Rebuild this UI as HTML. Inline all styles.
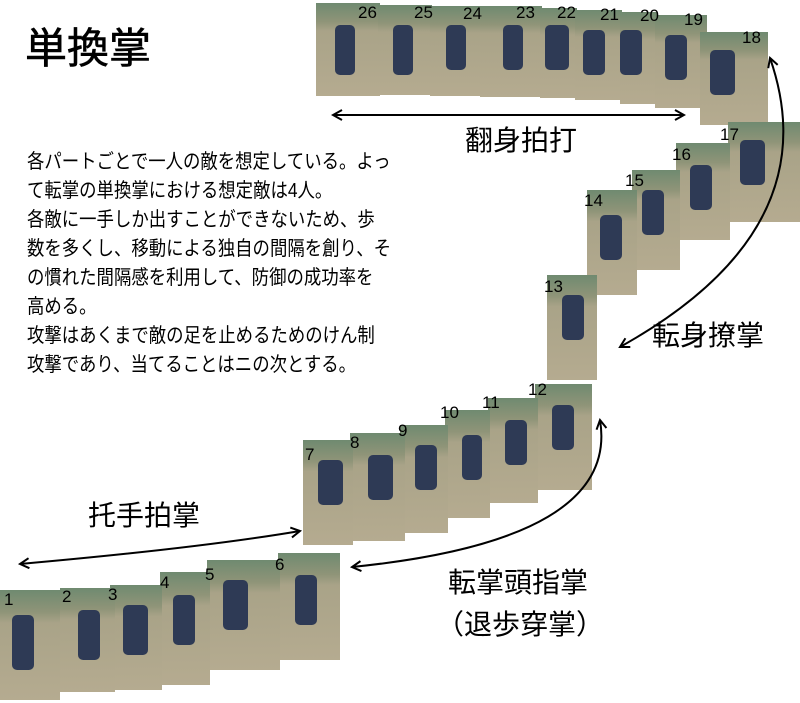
<!DOCTYPE html>
<html><head><meta charset="utf-8"><style>
html,body{margin:0;padding:0;background:#fff;width:800px;height:703px;overflow:hidden}
svg{display:block}
text{font-family:"Liberation Sans","Noto Sans CJK JP",sans-serif}
</style></head><body>
<svg width="800" height="703" viewBox="0 0 800 703" xmlns="http://www.w3.org/2000/svg">
<defs>
<linearGradient id="g" x1="0" y1="0" x2="0" y2="1">
<stop offset="0" stop-color="#6f8a70"/><stop offset="0.2" stop-color="#8f9478"/><stop offset="0.3" stop-color="#a9a388"/><stop offset="1" stop-color="#b5ab90"/>
</linearGradient>
<marker id="a" markerWidth="12" markerHeight="12" refX="10" refY="6" orient="auto-start-reverse" markerUnits="userSpaceOnUse">
<path d="M1,1 L10,6 L1,11" fill="none" stroke="#000" stroke-width="2"/></marker>
</defs>
<g>
<rect x="316" y="3" width="64" height="93" fill="url(#g)"/>
<rect x="378" y="5" width="54" height="90" fill="url(#g)"/>
<rect x="430" y="6" width="52" height="90" fill="url(#g)"/>
<rect x="480" y="6" width="62" height="91" fill="url(#g)"/>
<rect x="540" y="8" width="37" height="90" fill="url(#g)"/>
<rect x="575" y="10" width="47" height="90" fill="url(#g)"/>
<rect x="620" y="12" width="37" height="92" fill="url(#g)"/>
<rect x="655" y="15" width="52" height="93" fill="url(#g)"/>
<rect x="700" y="32" width="68" height="93" fill="url(#g)"/>
<rect x="728" y="122" width="72" height="100" fill="url(#g)"/>
<rect x="676" y="143" width="54" height="97" fill="url(#g)"/>
<rect x="632" y="170" width="48" height="100" fill="url(#g)"/>
<rect x="587" y="190" width="50" height="105" fill="url(#g)"/>
<rect x="547" y="275" width="50" height="105" fill="url(#g)"/>
<rect x="535" y="384" width="57" height="106" fill="url(#g)"/>
<rect x="488" y="398" width="50" height="105" fill="url(#g)"/>
<rect x="445" y="410" width="45" height="108" fill="url(#g)"/>
<rect x="400" y="425" width="48" height="108" fill="url(#g)"/>
<rect x="350" y="433" width="55" height="108" fill="url(#g)"/>
<rect x="303" y="440" width="50" height="105" fill="url(#g)"/>
<rect x="278" y="553" width="62" height="107" fill="url(#g)"/>
<rect x="207" y="560" width="73" height="110" fill="url(#g)"/>
<rect x="160" y="572" width="50" height="113" fill="url(#g)"/>
<rect x="110" y="585" width="52" height="105" fill="url(#g)"/>
<rect x="60" y="588" width="55" height="104" fill="url(#g)"/>
<rect x="0" y="590" width="60" height="110" fill="url(#g)"/>
</g>
<g fill="#2e3a55">
<rect x="335" y="25" width="20" height="50" rx="5"/><rect x="393" y="25" width="20" height="50" rx="5"/>
<rect x="446" y="25" width="20" height="45" rx="5"/><rect x="503" y="25" width="20" height="45" rx="5"/>
<rect x="545" y="25" width="24" height="45" rx="5"/><rect x="583" y="30" width="22" height="45" rx="5"/>
<rect x="620" y="30" width="22" height="45" rx="5"/><rect x="665" y="35" width="22" height="45" rx="5"/>
<rect x="710" y="50" width="25" height="45" rx="5"/><rect x="740" y="140" width="25" height="45" rx="5"/>
<rect x="690" y="165" width="22" height="45" rx="5"/><rect x="642" y="190" width="22" height="45" rx="5"/>
<rect x="600" y="215" width="22" height="45" rx="5"/><rect x="562" y="295" width="22" height="45" rx="5"/>
<rect x="552" y="405" width="22" height="45" rx="5"/><rect x="505" y="420" width="22" height="45" rx="5"/>
<rect x="462" y="435" width="20" height="45" rx="5"/><rect x="415" y="445" width="22" height="45" rx="5"/>
<rect x="368" y="455" width="25" height="45" rx="5"/><rect x="318" y="460" width="25" height="45" rx="5"/>
<rect x="295" y="575" width="22" height="50" rx="5"/><rect x="223" y="580" width="25" height="50" rx="5"/>
<rect x="173" y="595" width="22" height="50" rx="5"/><rect x="123" y="605" width="25" height="50" rx="5"/>
<rect x="78" y="610" width="22" height="50" rx="5"/><rect x="12" y="615" width="22" height="55" rx="5"/>
</g>
<g font-size="17" fill="#000">
<text x="358" y="18">26</text><text x="414" y="18">25</text><text x="463" y="19">24</text><text x="516" y="18">23</text>
<text x="557" y="18">22</text><text x="600" y="20">21</text><text x="640" y="21">20</text><text x="684" y="25">19</text>
<text x="742" y="43">18</text><text x="720" y="140">17</text><text x="672" y="160">16</text><text x="625" y="186">15</text>
<text x="584" y="206">14</text><text x="544" y="292">13</text><text x="528" y="395">12</text><text x="482" y="408">11</text>
<text x="440" y="418">10</text><text x="398" y="436">9</text><text x="350" y="448">8</text><text x="305" y="460">7</text>
<text x="275" y="570">6</text><text x="205" y="580">5</text><text x="160" y="588">4</text><text x="108" y="600">3</text>
<text x="62" y="602">2</text><text x="4" y="605">1</text>
</g>
<g fill="none" stroke="#000" stroke-width="2">
<line x1="333" y1="115" x2="684" y2="115" marker-start="url(#a)" marker-end="url(#a)"/>
<path d="M770,58 Q830,230 620,347" marker-start="url(#a)" marker-end="url(#a)"/>
<path d="M20,564 Q200,548 300,531" marker-start="url(#a)" marker-end="url(#a)"/>
<path d="M352,567 Q620,540 600,420" marker-start="url(#a)" marker-end="url(#a)"/>
</g>
<text x="25" y="63" font-size="42" stroke="#000" stroke-width="0.6">単換掌</text>
<g font-size="20" transform="translate(27,0) scale(0.87,1)">
<text x="0" y="168">各パートごとで一人の敵を想定している。よっ</text>
<text x="0" y="197">て転掌の単換掌における想定敵は4人。</text>
<text x="0" y="226">各敵に一手しか出すことができないため、歩</text>
<text x="0" y="255">数を多くし、移動による独自の間隔を創り、そ</text>
<text x="0" y="284">の慣れた間隔感を利用して、防御の成功率を</text>
<text x="0" y="313">高める。</text>
<text x="0" y="342">攻撃はあくまで敵の足を止めるためのけん制</text>
<text x="0" y="371">攻撃であり、当てることはニの次とする。</text>
</g>
<g font-size="28">
<text x="465" y="150">翻身拍打</text>
<text x="652" y="345">転身撩掌</text>
<text x="88" y="525">托手拍掌</text>
<text x="448" y="592">転掌頭指掌</text>
<text x="436" y="634">（退歩穿掌）</text>
</g>
</svg>
</body></html>
